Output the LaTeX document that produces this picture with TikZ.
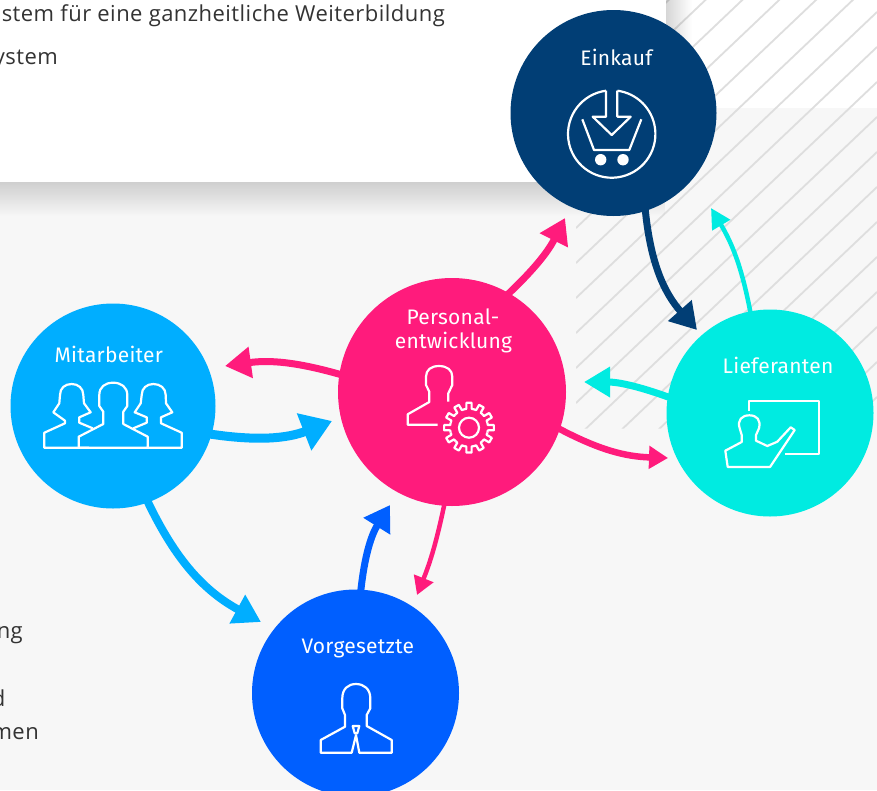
\documentclass[tikz,border=0pt]{standalone}
\usepackage{fontspec}
\setmainfont[LetterSpace=2.1]{Open Sans}
\newfontfamily\labelfont[LetterSpace=1.2]{Fira Sans}
\usetikzlibrary{positioning,arrows.meta,fadings}
\definecolor{cEinkauf}{HTML}{013E75}
\definecolor{cMitarbeiter}{HTML}{00AEFF}
\definecolor{cPersonal}{HTML}{FF1B7C}
\definecolor{cLieferanten}{HTML}{00EBE1}
\definecolor{cVorgesetzte}{HTML}{005FFF}
\definecolor{cGround}{HTML}{F7F7F7}
\definecolor{cHatch}{HTML}{DEDEDE}
\definecolor{cBody}{HTML}{333333}
\begin{document}
\begin{tikzpicture}
                [x=1pt,y=-1pt,
                hub/.style={circle,minimum size=#1,inner sep=0pt},
                hubtext/.style={anchor=base,white,align=center,font=\labelfont\fontsize{21}{25}\selectfont},
                bodytext/.style={anchor=base east,cBody,inner sep=0pt,font=\fontsize{22}{26}\selectfont},
                icon/.style={draw=white,line width=2.2pt,line join=round},
                hatchline/.style={draw=cHatch,line width=1.8pt},
                flow/.style n args={4}{draw=#1,line width=#2,shorten <=-3pt,-{Triangle[length=#3,width=#4]}}]
                \useasboundingbox (0,0) rectangle (877,790);
                % ground
                \fill[white] (0,0) rectangle (877,790);
                \fill[cGround] (0,108) rectangle (877,790);
                \begin{scope}
                \clip (666,0) -- (877,0) -- (877,428.7) -- (576,428.7) -- (576,183) -- (666,183) -- cycle;
                \foreach \k in {-9,...,9}
                    \draw[hatchline] (576,{403+35*\k}) -- (877,{403+35*\k-286});
                \end{scope}
                % card with its shadow
                \fill[black,opacity=.16,path fading=south] (0,182) rectangle (666,216);
                \fill[black,opacity=.16,path fading=east] (666,0) rectangle (692,182);
                \fill[white] (0,0) rectangle (666,182);
                \node[bodytext] (textcarda) at (445,21) {stem für eine ganzheitliche Weiterbildung};
                \node[bodytext] (textcardb) at (58,64) {ystem};
                \node[bodytext] (textlefta) at (23,638) {ng};
                \node[bodytext] (textleftb) at (5.5,706) {d};
                \node[bodytext] (textleftc) at (39,739) {men};
                % circles
                \node[hub=206pt,fill=cEinkauf] (einkauf) at (613.5,113){};
                \node[hub=205pt,fill=cMitarbeiter] (mitarbeiter) at (113,406){};
                \node[hub=228pt,fill=cPersonal] (personal) at (452,392){};
                \node[hub=207pt,fill=cLieferanten] (lieferanten) at (770,413){};
                \node[hub=207pt,fill=cVorgesetzte] (vorgesetzte) at (355.5,693){};
                % free ends of the arrows
                \coordinate (tipeinlief) at (697,330);
                \coordinate (tiplifein) at (711,208);
                \coordinate (tiplifper) at (584,382);
                \coordinate (tipperlif) at (668,458);
                \coordinate (tipperein) at (565,218);
                \coordinate (tippermit) at (225,366);
                \coordinate (tipmitper) at (332,421);
                \coordinate (tipmitvor) at (261,622);
                \coordinate (tipvorper) at (390,505);
                \coordinate (tippervor) at (417,595);
                \path[flow={cEinkauf}{7pt}{26pt}{30pt}] (einkauf.-72.3) to[bend right=18] (tipeinlief);
                \path[flow={cLieferanten}{4.5pt}{20pt}{20pt}] (lieferanten.101.7) to[bend right=10] (tiplifein);
                \path[flow={cLieferanten}{7pt}{26pt}{29pt}] (lieferanten.171) to[bend right=10] (tiplifper);
                \path[flow={cPersonal}{6.5pt}{19pt}{22pt}] (personal.-19.9) to[bend right=13] (tipperlif);
                \path[flow={cPersonal}{7pt}{25pt}{30pt}] (personal.60) to[bend right=10] (tipperein);
                \path[flow={cPersonal}{7pt}{26pt}{30pt}] (personal.171.4) to[bend right=12] (tippermit);
                \path[flow={cMitarbeiter}{9pt}{30pt}{38pt}] (mitarbeiter.-16.6) to[bend right=15] (tipmitper);
                \path[flow={cMitarbeiter}{8pt}{27pt}{31pt}] (mitarbeiter.-70) to[bend right=18] (tipmitvor);
                \path[flow={cVorgesetzte}{7pt}{25pt}{30pt}] (vorgesetzte.87.6) to[bend left=13] (tipvorper);
                \path[flow={cPersonal}{4.5pt}{18pt}{20pt}] (personal.-94) to[bend left=5] (tippervor);
                % labels
                \node[hubtext] (texteinkauf) at (616.3,65.7) {Einkauf};
                \node[hubtext] (textmitarbeiter) at (108.8,362.7) {Mitarbeiter};
                \node[hubtext] (textpersonala) at (453,324) {Personal-};
                \node[hubtext] (textpersonalb) at (453.5,348.7) {entwicklung};
                \node[hubtext] (textlieferanten) at (778,373.3) {Lieferanten};
                \node[hubtext] (textvorgesetzte) at (357.8,653.3) {Vorgesetzte};
                % icon Einkauf
                \draw[icon] (606,90.7) arc[start angle=97.5,end angle=442.5,radius=43.7pt];
                \draw[icon] (606,90.7) -- (606,116.7) -- (592.7,116.7) -- (611.7,135) -- (630.7,116.7) -- (617.3,116.7) -- (617.3,90.7);
                \draw[icon] (582.3,119.3) -- (594,150) -- (629.3,150) -- (641.3,119.3);
                \fill[white] (600.7,159.7) circle[radius=5.7pt] (623,159.7) circle[radius=5.7pt];
                % icon Mitarbeiter
                \draw[icon] (89,447.7) -- (44.3,447.7) -- (44.3,432.7) -- (65,423.3) -- (65,420.7) -- (53.3,412.3) -- (59.3,403.3) -- (60,395)
                    .. controls (60,388) and (65,384) .. (71.7,384) .. controls (78,384) and (83.3,388) .. (83.3,395)
                    -- (84,403.3) -- (90.7,412.3) -- (79.3,417.3) -- (79.3,422.7) -- (92.7,428.3);
                \draw[icon] (147.7,447.7) -- (181.7,447.7) -- (181.7,432.7) -- (161,423.3) -- (161,417.3) -- (172.3,412.3) -- (166,403.3) -- (165.7,395)
                    .. controls (165.7,388) and (160,384) .. (153.3,384) .. controls (147,384) and (141.7,388) .. (141.7,395)
                    -- (140.7,403.3) -- (134.7,412.3) -- (146.7,417.3) -- (146.7,422.7) -- (133.3,428.3);
                \draw[icon] (78.7,447.7) -- (78.7,436.7) -- (103.3,424) -- (103.3,411.7) -- (99.3,406) -- (99.3,395)
                    .. controls (99.3,387) and (105,382.7) .. (113.3,382.7) .. controls (121,382.7) and (127.3,387) .. (127.3,395)
                    -- (127.3,406) -- (123.3,411.7) -- (123.3,424) -- (147.7,436.7) -- (147.7,447.7) -- cycle;
                % icon Personal
                \draw[icon] (437.7,424.7) -- (407.7,424.7) -- (407.7,414.3) -- (429.3,402) -- (429.3,391.7) -- (426,385) -- (426,376.7)
                    .. controls (426,370) and (431,366) .. (439,366) .. controls (447,366) and (452.3,370) .. (452.3,376.7)
                    -- (452.3,385) -- (448.3,393.3) -- (448.3,401.7);
                \draw[icon] (469,427.7) circle[radius=10pt];
                \begin{scope}[shift={(469,427.7)}]
                \foreach \a in {0,30,...,330}
                    \draw[icon] ({\a-15}:19pt) arc[start angle={\a-15},end angle={\a-8},radius=19pt]
                        -- ({\a-6}:25pt) -- ({\a+6}:25pt) -- ({\a+8}:19pt) arc[start angle={\a+8},end angle={\a+15},radius=19pt];
                \end{scope}
                % icon Lieferanten
                \draw[icon] (749,410.7) -- (749,401) -- (819.3,401) -- (819.3,454) -- (785.3,454);
                \draw[icon] (727.7,467) -- (725.3,450.7) -- (741.7,442) -- (741.7,435) -- (739.7,428.3)
                    .. controls (737,420) and (742,415.3) .. (749.3,415.3) .. controls (757,415.3) and (761,420) .. (759,428.3)
                    -- (756,435) -- (756,440.7) -- (767.3,446) -- (777.3,441.7) -- (790.7,427.3) -- (794.7,430) -- (770,467) -- cycle;
                % icon Vorgesetzte
                \draw[icon] (351.7,752.7) -- (320.7,752.7) -- (320.7,740) -- (345,726.7) -- (345,715) -- (342.3,708.3) -- (342.3,698.3)
                    .. controls (342.3,689) and (348,684) .. (356,684) .. controls (364,684) and (370.3,689) .. (370.3,698.3)
                    -- (370.3,708.3) -- (366.7,715) -- (366.7,726) -- (391.7,740) -- (391.7,752.7) -- (359.3,752.7) -- (356,735) -- cycle;
                \draw[icon] (352.7,726) -- (359.3,726) -- (357.3,733.3) -- (354.7,733.3) -- cycle;
\end{tikzpicture}
\end{document}
